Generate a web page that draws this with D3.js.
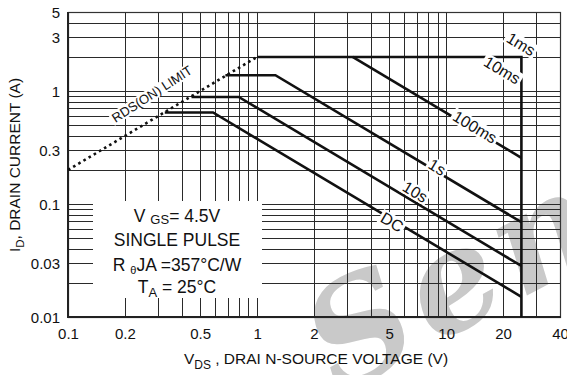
<!DOCTYPE html>
<html>
<head>
<meta charset="utf-8">
<script src="https://cdn.jsdelivr.net/npm/d3@7"></script>
<style>
  html, body { margin: 0; padding: 0; background: #fff; }
  svg { display: block; font-family: "Liberation Sans", Arial, sans-serif; }
</style>
</head>
<body>
<svg id="chart" width="567" height="375"></svg>
<script>
// Safe operating area: drain current vs drain-source voltage (log-log)
const xGrid = [0.2, 0.3, 0.4, 0.5, 0.6, 0.7, 0.8, 0.9, 1, 2, 3, 4, 5, 6, 7, 8, 9, 10, 20, 30];
const yGrid = [0.02, 0.03, 0.04, 0.05, 0.06, 0.07, 0.08, 0.09, 0.1, 0.2, 0.3, 0.4, 0.5, 0.6, 0.7, 0.8, 0.9, 1, 2, 3, 4];
const xTickLabels = [0.1, 0.2, 0.5, 1, 2, 5, 10, 20, 40];
const yTickLabels = [0.01, 0.03, 0.1, 0.3, 1, 3, 5];

// Boundary curves as [VDS (V), ID (A)] points
const rdsLimit   = [[0.1, 0.2], [1, 2]];
const pulse1ms   = [[1, 2], [25, 2], [25, 0.01]];
const pulse100ms = [[3.2, 2], [25, 0.256]];
const pulse1s    = [[0.68, 1.38], [1.25, 1.38], [25, 0.069]];
const pulse10s   = [[0.45, 0.885], [0.8, 0.885], [25, 0.0283]];
const pulseDC    = [[0.325, 0.645], [0.585, 0.645], [25, 0.0151]];

// Curve names and where they sit
const curveNames = ["1ms", "10ms", "100ms", "1s", "10s", "DC"];
const curveNameV = [24.9, 19.8, 14.2, 8.96, 6.86, 5.18];
const curveNameI = [2.6, 1.53, 0.48, 0.212, 0.128, 0.069];
const limitName = "RDS(ON) LIMIT";
const limitNameAt = [0.278, 0.94];

const svg = d3.select("#chart");
const plotL = 68, plotR = 560, plotT = 12, plotB = 317;

const x = d3.scaleLog().domain([0.1, 40]).range([plotL, plotR]);
const y = d3.scaleLog().domain([0.01, 5]).range([plotB, plotT]);
const px = v => Math.round(x(v)) + 0.5;
const py = v => Math.round(y(v)) + 0.5;

// faint background lettering across the lower right
svg.append("text").attr("transform", "translate(338,396) rotate(-28)")
  .attr("font-family", "DejaVu Serif, serif").attr("font-style", "italic").attr("font-weight", "bold")
  .attr("font-size", 140).attr("letter-spacing", 8).attr("fill", "#c9c9c9").text("Sem");

// grid
const grid = svg.append("g").attr("stroke", "#2a2a2a").attr("stroke-width", 1);
grid.selectAll("line.v").data(xGrid).join("line").attr("class", "v")
  .attr("x1", d => px(d)).attr("x2", d => px(d)).attr("y1", plotT).attr("y2", plotB);
grid.selectAll("line.h").data(yGrid).join("line").attr("class", "h")
  .attr("x1", plotL).attr("x2", plotR).attr("y1", d => py(d)).attr("y2", d => py(d));

// frame
svg.append("rect").attr("x", plotL + 0.5).attr("y", plotT + 0.5)
  .attr("width", plotR - plotL).attr("height", plotB - plotT)
  .attr("fill", "none").attr("stroke", "#333").attr("stroke-width", 1.2);
svg.append("line").attr("x1", plotL).attr("x2", plotL).attr("y1", plotT).attr("y2", plotB + 1)
  .attr("stroke", "#222").attr("stroke-width", 2);
svg.append("line").attr("x1", plotL).attr("x2", plotR + 1).attr("y1", plotB).attr("y2", plotB)
  .attr("stroke", "#222").attr("stroke-width", 2);

// axes tick labels
const xAxis = d3.axisBottom(x).tickValues(xTickLabels).tickSize(0).tickPadding(11)
  .tickFormat(d3.format("~g"));
const gx = svg.append("g").attr("transform", `translate(0,${plotB})`).call(xAxis);
gx.select(".domain").remove();
gx.selectAll("text").attr("font-size", 15).attr("font-family", "Liberation Sans, Arial, sans-serif")
  .attr("fill", "#111");

const yAxis = d3.axisLeft(y).tickValues(yTickLabels).tickSize(0).tickPadding(8)
  .tickFormat(d3.format("~g"));
const gy = svg.append("g").attr("transform", `translate(${plotL},0)`).call(yAxis);
gy.select(".domain").remove();
gy.selectAll("text").attr("font-size", 15).attr("font-family", "Liberation Sans, Arial, sans-serif")
  .attr("fill", "#111").attr("dy", "0.36em");

// conditions panel
svg.append("rect").attr("x", 93).attr("y", 201).attr("width", 169).attr("height", 97).attr("fill", "#fff");
const cond = svg.append("text").attr("text-anchor", "middle").attr("font-size", 17.5).attr("fill", "#111");
const l1 = cond.append("tspan").attr("x", 177).attr("y", 222);
l1.append("tspan").text("V ");
l1.append("tspan").attr("font-size", 13).attr("dy", 2).text("GS");
l1.append("tspan").attr("dy", -2).text("= 4.5V");
cond.append("tspan").attr("x", 177).attr("y", 246).text("SINGLE PULSE");
const l3 = cond.append("tspan").attr("x", 177).attr("y", 271);
l3.append("tspan").text("R ");
l3.append("tspan").attr("font-size", 11).attr("dy", 3).text("θ");
l3.append("tspan").attr("dy", -3).text("JA =357°C/W");
const l4 = cond.append("tspan").attr("x", 177).attr("y", 293);
l4.append("tspan").text("T");
l4.append("tspan").attr("font-size", 13).attr("dy", 4).text("A");
l4.append("tspan").attr("dy", -4).text(" = 25°C");

// curves
const line = d3.line().x(d => x(d[0])).y(d => y(d[1]));
svg.append("path").datum(rdsLimit).attr("d", line).attr("fill", "none")
  .attr("stroke", "#111").attr("stroke-width", 2.6).attr("stroke-dasharray", "2.6,3.4");
[pulse1ms, pulse100ms, pulse1s, pulse10s, pulseDC].forEach(c => {
  svg.append("path").datum(c).attr("d", line).attr("fill", "none")
    .attr("stroke", "#111").attr("stroke-width", 2.6).attr("stroke-linejoin", "miter");
});

// curve name tags on white patches
const slopeAngle = Math.atan2(y(0.1) - y(1), x(10) - x(1)) * 180 / Math.PI;
function tag(text, v, i, angle, size) {
  const g = svg.append("g").attr("transform", `translate(${x(v)},${y(i)}) rotate(${angle})`);
  const t = g.append("text").attr("text-anchor", "middle").attr("dy", "0.35em")
    .attr("font-size", size).attr("fill", "#111").text(text);
  const b = t.node().getBBox();
  g.insert("rect", "text").attr("x", b.x - 2).attr("y", b.y + 1)
    .attr("width", b.width + 4).attr("height", b.height - 2).attr("fill", "#fff");
}
curveNames.forEach((n, k) => tag(n, curveNameV[k], curveNameI[k], slopeAngle, 16));
tag(limitName, limitNameAt[0], limitNameAt[1], -slopeAngle - 2, 13);

// axis titles
const yt = svg.append("text").attr("transform", "translate(20,165) rotate(-90)")
  .attr("text-anchor", "middle").attr("font-size", 15.5).attr("fill", "#111");
yt.append("tspan").text("I");
yt.append("tspan").attr("font-size", 11.5).attr("dy", 4).text("D");
yt.append("tspan").attr("dy", -4).text(", DRAIN CURRENT (A)");

const xt = svg.append("text").attr("x", 316).attr("y", 364)
  .attr("text-anchor", "middle").attr("font-size", 15.5).attr("fill", "#111");
xt.append("tspan").text("V");
xt.append("tspan").attr("font-size", 12).attr("dy", 5).text("DS");
xt.append("tspan").attr("dy", -5).text(" , DRAI N-SOURCE VOLTAGE (V)");
</script>
</body>
</html>
